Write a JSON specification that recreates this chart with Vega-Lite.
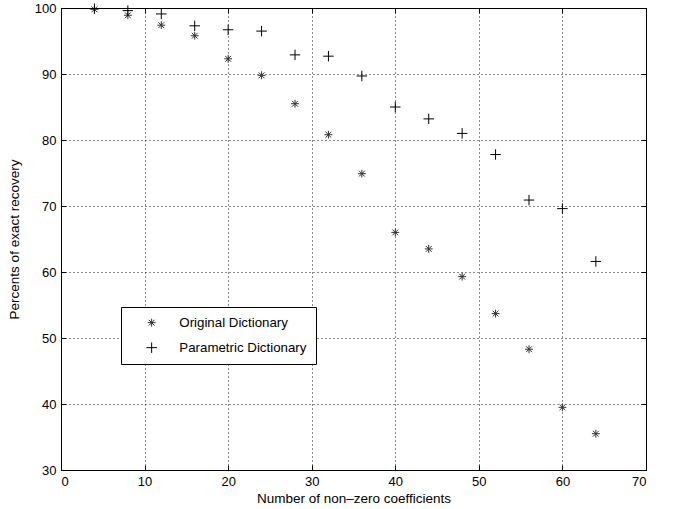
{
  "$schema": "https://vega.github.io/schema/vega-lite/v6.json",
  "width": 585,
  "height": 462,
  "autosize": {"type": "none"},
  "padding": {"left": 61, "top": 8, "right": 32, "bottom": 39},
  "background": "white",
  "config": {
    "font": "Liberation Sans",
    "view": {"stroke": "black", "strokeWidth": 1},
    "axis": {
      "domainColor": "black",
      "tickColor": "black",
      "labelColor": "black",
      "titleColor": "black",
      "labelFont": "Liberation Sans",
      "titleFont": "Liberation Sans",
      "labelFontSize": 13,
      "titleFontSize": 13.5,
      "titleFontWeight": "normal",
      "gridColor": "black",
      "gridOpacity": 0.9,
      "gridDash": [1, 3],
      "gridWidth": 1
    }
  },
  "data": {
    "values": [
      {"k": 4, "pct": 99.8, "series": "Original Dictionary"},
      {"k": 8, "pct": 98.9, "series": "Original Dictionary"},
      {"k": 12, "pct": 97.4, "series": "Original Dictionary"},
      {"k": 16, "pct": 95.8, "series": "Original Dictionary"},
      {"k": 20, "pct": 92.3, "series": "Original Dictionary"},
      {"k": 24, "pct": 89.8, "series": "Original Dictionary"},
      {"k": 28, "pct": 85.5, "series": "Original Dictionary"},
      {"k": 32, "pct": 80.8, "series": "Original Dictionary"},
      {"k": 36, "pct": 74.9, "series": "Original Dictionary"},
      {"k": 40, "pct": 66.0, "series": "Original Dictionary"},
      {"k": 44, "pct": 63.5, "series": "Original Dictionary"},
      {"k": 48, "pct": 59.3, "series": "Original Dictionary"},
      {"k": 52, "pct": 53.7, "series": "Original Dictionary"},
      {"k": 56, "pct": 48.3, "series": "Original Dictionary"},
      {"k": 60, "pct": 39.5, "series": "Original Dictionary"},
      {"k": 64, "pct": 35.5, "series": "Original Dictionary"},
      {"k": 4, "pct": 99.9, "series": "Parametric Dictionary"},
      {"k": 8, "pct": 99.6, "series": "Parametric Dictionary"},
      {"k": 12, "pct": 99.1, "series": "Parametric Dictionary"},
      {"k": 16, "pct": 97.3, "series": "Parametric Dictionary"},
      {"k": 20, "pct": 96.7, "series": "Parametric Dictionary"},
      {"k": 24, "pct": 96.5, "series": "Parametric Dictionary"},
      {"k": 28, "pct": 92.9, "series": "Parametric Dictionary"},
      {"k": 32, "pct": 92.7, "series": "Parametric Dictionary"},
      {"k": 36, "pct": 89.7, "series": "Parametric Dictionary"},
      {"k": 40, "pct": 85.0, "series": "Parametric Dictionary"},
      {"k": 44, "pct": 83.2, "series": "Parametric Dictionary"},
      {"k": 48, "pct": 81.0, "series": "Parametric Dictionary"},
      {"k": 52, "pct": 77.8, "series": "Parametric Dictionary"},
      {"k": 56, "pct": 70.9, "series": "Parametric Dictionary"},
      {"k": 60, "pct": 69.6, "series": "Parametric Dictionary"},
      {"k": 64, "pct": 61.6, "series": "Parametric Dictionary"}
    ]
  },
  "layer": [
    {
      "mark": {"type": "point", "filled": false, "strokeWidth": 1, "size": 110, "opacity": 1},
      "encoding": {
        "x": {
          "field": "k", "type": "quantitative",
          "scale": {"domain": [0, 70], "nice": false, "zero": false},
          "axis": {"orient": "bottom", "values": [0, 10, 20, 30, 40, 50, 60, 70], "tickSize": -5, "labelPadding": 10, "title": "Number of non–zero coefficients", "titlePadding": 3, "grid": true}
        },
        "y": {
          "field": "pct", "type": "quantitative",
          "scale": {"domain": [30, 100], "nice": false, "zero": false},
          "axis": {"orient": "left", "values": [30, 40, 50, 60, 70, 80, 90, 100], "tickSize": -5, "labelPadding": 10, "title": "Percents of exact recovery", "titlePadding": 13, "grid": true}
        },
        "shape": {
          "field": "series", "type": "nominal",
          "scale": {
            "domain": ["Original Dictionary", "Parametric Dictionary"],
            "range": ["M-0.75,0L0.75,0M0,-0.75L0,0.75M-0.55,-0.55L0.55,0.55M-0.55,0.55L0.55,-0.55", "M-1,0L1,0M0,-1L0,1"]
          },
          "legend": {
            "title": null,
            "orient": "none",
            "legendX": 60,
            "legendY": 299,
            "strokeColor": "black",
            "fillColor": "white",
            "padding": 9,
            "symbolOffset": 15,
            "labelOffset": 21,
            "rowPadding": 11,
            "labelFontSize": 13.3,
            "labelFont": "Liberation Sans",
            "labelColor": "black",
            "symbolSize": 110,
            "symbolStrokeWidth": 1
          }
        },
        "color": {
          "field": "series", "type": "nominal",
          "scale": {"domain": ["Original Dictionary", "Parametric Dictionary"], "range": ["#333333", "#000000"]},
          "legend": {
            "title": null,
            "orient": "none",
            "legendX": 60,
            "legendY": 299,
            "strokeColor": "black",
            "fillColor": "white",
            "padding": 9,
            "symbolOffset": 15,
            "labelOffset": 21,
            "rowPadding": 11,
            "labelFontSize": 13.3,
            "labelFont": "Liberation Sans",
            "labelColor": "black",
            "symbolSize": 110,
            "symbolStrokeWidth": 1
          }
        }
      }
    },
    {
      "mark": {"type": "point", "opacity": 0},
      "encoding": {
        "x": {
          "field": "k", "type": "quantitative",
          "scale": {"domain": [0, 70], "nice": false, "zero": false},
          "axis": {"orient": "top", "values": [0, 10, 20, 30, 40, 50, 60, 70], "tickSize": -5, "labels": false, "title": null, "grid": false}
        },
        "y": {
          "field": "pct", "type": "quantitative",
          "scale": {"domain": [30, 100], "nice": false, "zero": false},
          "axis": {"orient": "right", "values": [30, 40, 50, 60, 70, 80, 90, 100], "tickSize": -5, "labels": false, "title": null, "grid": false}
        }
      }
    }
  ],
  "resolve": {"axis": {"x": "independent", "y": "independent"}}
}
